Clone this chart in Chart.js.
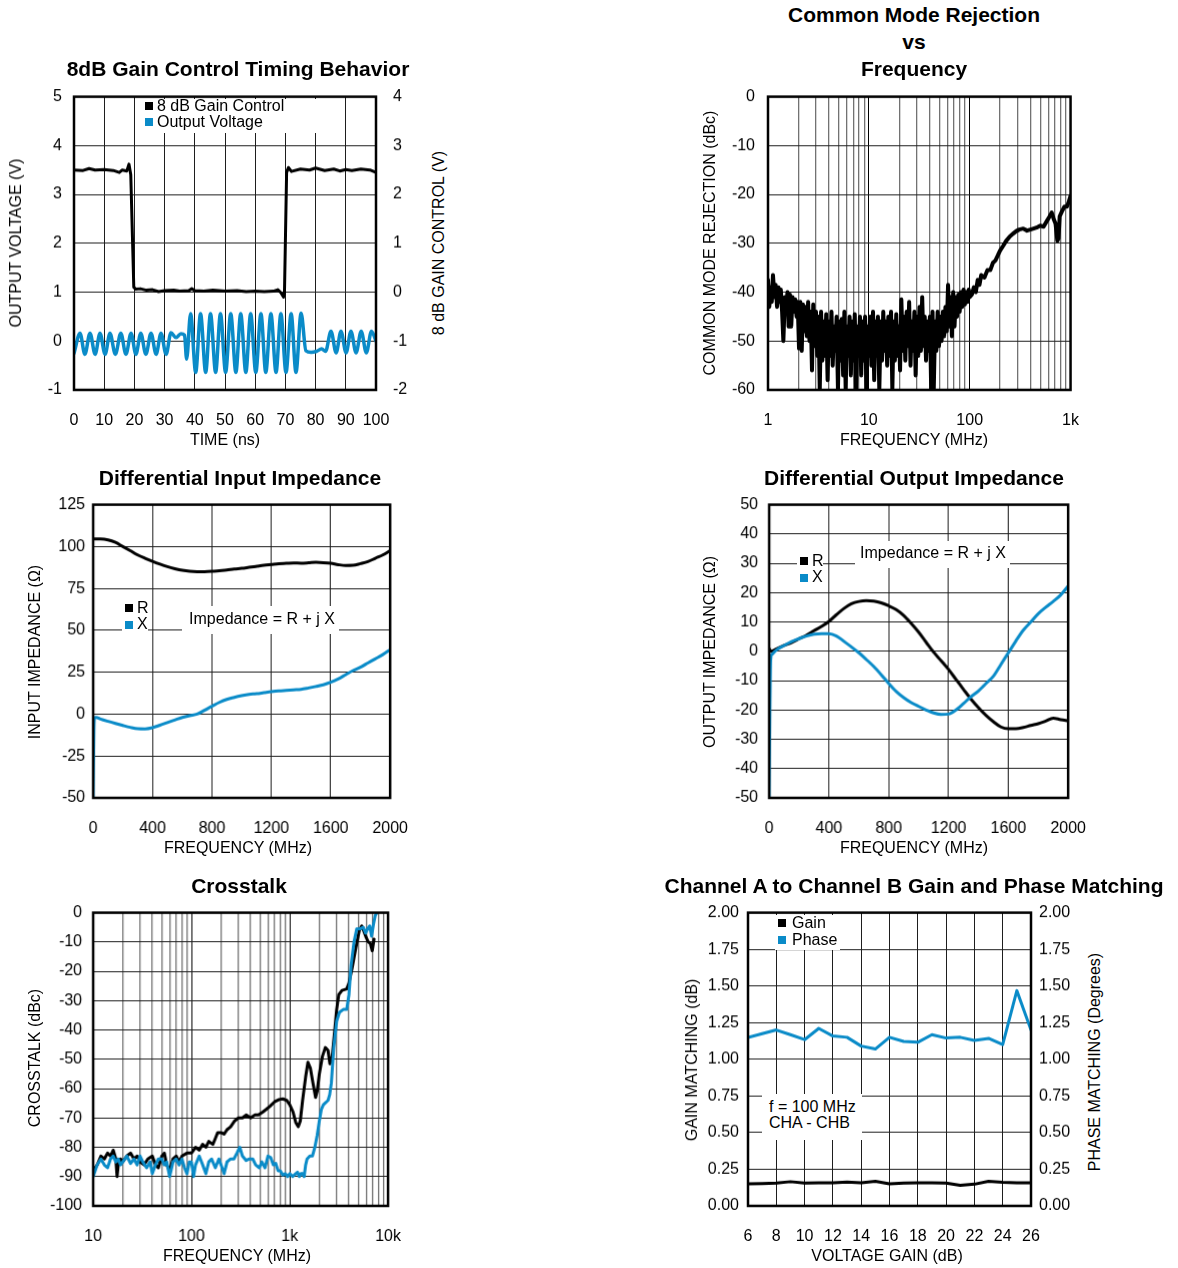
<!DOCTYPE html>
<html>
<head>
<meta charset="utf-8">
<script src="https://cdn.jsdelivr.net/npm/chart.js@4.4.1/dist/chart.umd.min.js"></script>
<style>
  body { margin: 0; background: #fff; width: 1178px; height: 1268px; position: relative; overflow: hidden;
         font-family: "Liberation Sans", Arial, sans-serif; color: #000; }
  canvas { position: absolute; }
  .t { position: absolute; white-space: nowrap; line-height: 1; font-size: 16px; transform: translate(-50%, -50%); }
  .title { font-weight: bold; font-size: 21px; }
  .rot { transform: translate(-50%, -50%) rotate(-90deg); }
  .lab { position: absolute; white-space: nowrap; line-height: 1; font-size: 16px; transform: translateY(-50%); }
  .box { position: absolute; background: #fff; }
  .sq { position: absolute; width: 8px; height: 8px; }
  .k { background: #000; }
  .b { background: #0a8bc8; }
</style>
</head>
<body>

<canvas id="timing"></canvas>
<canvas id="cmrr"></canvas>
<canvas id="zin"></canvas>
<canvas id="zout"></canvas>
<canvas id="xtalk"></canvas>
<canvas id="match"></canvas>

<!-- gain control timing -->
<div class="t title" style="left:238px;top:68px">8dB Gain Control Timing Behavior</div>
<div class="t rot" style="left:16px;top:243px">OUTPUT VOLTAGE (V)</div>
<div class="t rot" style="left:439px;top:243px">8 dB GAIN CONTROL (V)</div>
<div class="t" style="left:225px;top:440px">TIME (ns)</div>
<div class="box" style="left:140px;top:99px;width:180px;height:34px"></div>
<div class="sq k" style="left:145px;top:102px"></div>
<div class="sq b" style="left:145px;top:118px"></div>
<div class="lab" style="left:157px;top:106px">8 dB Gain Control</div>
<div class="lab" style="left:157px;top:122px">Output Voltage</div>

<!-- common mode rejection -->
<div class="t title" style="left:914px;top:14px">Common Mode Rejection</div>
<div class="t title" style="left:914px;top:41px">vs</div>
<div class="t title" style="left:914px;top:68px">Frequency</div>
<div class="t rot" style="left:710px;top:243px">COMMON MODE REJECTION (dBc)</div>
<div class="t" style="left:914px;top:440px">FREQUENCY (MHz)</div>

<!-- input impedance -->
<div class="t title" style="left:240px;top:477px">Differential Input Impedance</div>
<div class="t rot" style="left:35px;top:652px">INPUT IMPEDANCE (Ω)</div>
<div class="t" style="left:238px;top:848px">FREQUENCY (MHz)</div>
<div class="box" style="left:122px;top:597px;width:26px;height:36px"></div>
<div class="sq k" style="left:125px;top:604px"></div>
<div class="sq b" style="left:125px;top:621px"></div>
<div class="lab" style="left:137px;top:608px">R</div>
<div class="lab" style="left:137px;top:624px">X</div>
<div class="box" style="left:182px;top:606px;width:157px;height:28px"></div>
<div class="t" style="left:262px;top:619px">Impedance = R + j X</div>

<!-- output impedance -->
<div class="t title" style="left:914px;top:477px">Differential Output Impedance</div>
<div class="t rot" style="left:710px;top:652px">OUTPUT IMPEDANCE (Ω)</div>
<div class="t" style="left:914px;top:848px">FREQUENCY (MHz)</div>
<div class="box" style="left:797px;top:551px;width:26px;height:36px"></div>
<div class="sq k" style="left:800px;top:557px"></div>
<div class="sq b" style="left:800px;top:574px"></div>
<div class="lab" style="left:812px;top:561px">R</div>
<div class="lab" style="left:812px;top:577px">X</div>
<div class="box" style="left:855px;top:541px;width:155px;height:27px"></div>
<div class="t" style="left:933px;top:553px">Impedance = R + j X</div>

<!-- crosstalk -->
<div class="t title" style="left:239px;top:885px">Crosstalk</div>
<div class="t rot" style="left:35px;top:1058px">CROSSTALK (dBc)</div>
<div class="t" style="left:237px;top:1256px">FREQUENCY (MHz)</div>

<!-- gain / phase matching -->
<div class="t title" style="left:914px;top:885px">Channel A to Channel B Gain and Phase Matching</div>
<div class="t rot" style="left:692px;top:1060px">GAIN MATCHING (dB)</div>
<div class="t rot" style="left:1095px;top:1062px">PHASE MATCHING (Degrees)</div>
<div class="t" style="left:887px;top:1256px">VOLTAGE GAIN (dB)</div>
<div class="box" style="left:775px;top:915px;width:65px;height:35px"></div>
<div class="sq k" style="left:778px;top:919px"></div>
<div class="sq b" style="left:778px;top:936px"></div>
<div class="lab" style="left:792px;top:923px">Gain</div>
<div class="lab" style="left:792px;top:940px">Phase</div>
<div class="box" style="left:762px;top:1094px;width:100px;height:46px"></div>
<div class="lab" style="left:769px;top:1107px">f = 100 MHz</div>
<div class="lab" style="left:769px;top:1123px">CHA - CHB</div>

<script>
const BLACK = '#000000';
const BLUE = '#0a8bc8';
const GRID = '#1e1e1e';
const MINOR = '#727272';

// --- 8 dB gain control timing (ns / V) ---
const outT = [0, 2.0, 3.6, 5.3, 7.0, 8.6, 10.3, 11.9, 13.7, 15.5, 17.2, 18.9, 20.5, 22.1, 23.8, 25.5, 27.2, 28.8, 30.5,
  32.1, 33.8, 35.4, 36.6, 37.3, 38.6, 40.3, 41.9, 43.6, 45.2, 46.9, 48.5, 50.2, 51.9, 53.6, 55.2, 56.9, 58.5, 60.2,
  61.9, 63.5, 65.2, 66.9, 68.5, 70.2, 71.9, 73.5, 75.2, 76.8, 78.5, 80.3, 82.0, 83.3, 85.1, 86.8, 88.4, 90.1, 91.7,
  93.4, 95.1, 96.8, 98.5, 100];
const outV = [-0.25, 0.16, -0.27, 0.16, -0.27, 0.16, -0.27, 0.16, -0.27, 0.16, -0.27, 0.16, -0.27, 0.16, -0.27, 0.16, -0.27, 0.16, -0.27,
  0.17, 0.07, 0.15, 0.12, -0.37, 0.56, -0.64, 0.56, -0.64, 0.56, -0.64, 0.56, -0.64, 0.56, -0.64, 0.56, -0.64, 0.56, -0.64,
  0.56, -0.64, 0.56, -0.64, 0.56, -0.64, 0.56, -0.64, 0.57, -0.2, -0.23, -0.21, -0.16, -0.21, 0.2, -0.24, 0.2, -0.24, 0.2,
  -0.24, 0.2, -0.24, 0.2, 0.0];
const ctrlT = [0, 3, 5, 7, 10, 13, 15, 16, 17.5, 18.2, 18.8, 19.8, 20.5, 22, 24, 26, 28, 30, 33, 35, 38, 39, 40, 43, 46,
  50, 54, 57, 60, 63, 66, 67.5, 68.5, 69.4, 69.7, 70.4, 71, 72, 75, 78, 80, 83, 86, 88, 90, 92, 95, 98, 100];
const ctrlV = [2.5, 2.49, 2.53, 2.5, 2.51, 2.49, 2.45, 2.5, 2.48, 2.62, 2.4, 0.1, 0.06, 0.07, 0.04, 0.05, 0.01, 0.03, 0.04, 0.02, 0.03, 0.07, 0.03, 0.02, 0.04,
  0.02, 0.03, 0.01, 0.02, 0.01, 0.02, 0.05, -0.01, -0.1, 0.0, 2.45, 2.55, 2.47, 2.52, 2.5, 2.54, 2.49, 2.52, 2.48, 2.51, 2.49, 2.52, 2.5, 2.45];

// --- common mode rejection (MHz / dBc) ---
const cmrrFreq = [
  1.00, 1.03, 1.06, 1.09, 1.12, 1.16, 1.19, 1.23, 1.27, 1.30,
  1.34, 1.38, 1.42, 1.47, 1.51, 1.56, 1.60, 1.65, 1.70, 1.75,
  1.81, 1.86, 1.92, 1.97, 2.03, 2.09, 2.16, 2.22, 2.29, 2.36,
  2.43, 2.50, 2.58, 2.65, 2.73, 2.81, 2.90, 2.99, 3.08, 3.17,
  3.26, 3.36, 3.46, 3.57, 3.67, 3.78, 3.90, 4.01, 4.13, 4.26,
  4.38, 4.52, 4.65, 4.79, 4.94, 5.08, 5.24, 5.39, 5.56, 5.72,
  5.89, 6.07, 6.25, 6.44, 6.63, 6.83, 7.04, 7.25, 7.47, 7.69,
  7.92, 8.16, 8.40, 8.65, 8.91, 9.18, 9.46, 9.74, 10.0, 10.3,
  10.6, 11.0, 11.3, 11.6, 12.0, 12.3, 12.7, 13.1, 13.5, 13.9,
  14.3, 14.7, 15.2, 15.6, 16.1, 16.6, 17.1, 17.6, 18.1, 18.7,
  19.2, 19.8, 20.4, 21.0, 21.7, 22.3, 23.0, 23.7, 24.4, 25.1,
  25.9, 26.6, 27.4, 28.3, 29.1, 30.0, 30.9, 31.8, 32.8, 33.8,
  34.8, 35.8, 36.9, 38.0, 39.1, 40.3, 41.5, 42.8, 44.0, 45.4,
  46.7, 48.1, 49.6, 51.1, 52.6, 54.2, 55.8, 57.5, 59.2, 61.0,
  62.8, 64.7, 66.6, 68.6, 70.7, 72.8, 75.0, 77.2, 79.5, 81.9,
  84.4, 86.9, 89.5, 92.2, 95.0, 97.8, 100, 105, 110, 115,
  120, 125, 130, 140, 150, 160, 170, 180, 190, 200,
  215, 230, 250, 270, 290, 310, 340, 370, 400, 430,
  460, 500, 540, 580, 620, 650, 680, 710, 740, 760,
  780, 820, 870, 920, 960, 1000];
const cmrrDb = [
  -37.5, -43, -39, -42, -36.5, -41, -38.5, -43, -39, -42,
  -39.5, -44, -50, -41, -44, -40, -47, -40.5, -47, -41,
  -44, -41.5, -45, -42, -51.5, -42, -52, -42.5, -48, -43,
  -49, -42, -50, -44, -56, -42.5, -51, -44, -53, -45,
  -60, -44, -54, -46, -53, -44.5, -58, -46, -53, -44,
  -55, -47, -52, -45, -60, -46, -54, -45.5, -57, -44,
  -60, -47, -53, -45, -57, -46, -54, -44.5, -60, -47,
  -53, -45, -57, -46, -54, -45, -60, -47, -53, -45,
  -55, -44, -58, -46, -53, -45, -60, -46, -54, -44,
  -52, -46, -55, -45, -53, -44, -60, -46, -54, -44.5,
  -53, -47, -56, -41.5, -52, -45, -54, -44, -51, -42,
  -55, -46, -52, -44, -57, -45, -53, -43, -52, -41,
  -51, -45, -54, -46, -52, -45, -60, -44, -60, -46,
  -52, -44, -51, -45, -50, -44, -49, -43, -48, -38.5,
  -47, -41, -49, -40, -47, -41, -45, -40.5, -44, -40,
  -43, -39.5, -42.5, -40, -42, -39.5, -41, -40.5, -39, -40,
  -37.5, -38.5, -36.5, -37, -35.5, -35.5, -34, -33.5, -32.5, -31.5,
  -30.5, -29.5, -28.6, -28, -27.5, -27.2, -27, -27.4, -27.2, -27,
  -26.8, -26.4, -26.6, -25.5, -24.5, -23.7, -25, -26, -29.5, -29,
  -24.5, -23.5, -22.5, -22.5, -21.5, -20.3];

// --- differential input impedance (MHz / ohm) ---
const zinFreqR = [0, 10, 50, 100, 150, 200, 250, 300, 350, 400, 450, 500, 550, 600, 650, 700, 750, 800, 850, 900, 950,
  1000, 1050, 1100, 1150, 1200, 1250, 1300, 1350, 1400, 1450, 1500, 1550, 1600, 1650, 1700, 1750, 1800, 1850, 1900, 1950, 2000];
const zinR = [105, 104.5, 104.5, 104, 102.5, 100, 97.5, 95, 93, 91.2, 89.5, 88, 86.8, 85.8, 85.2, 85, 85, 85.2, 85.6, 86, 86.6,
  87, 87.6, 88.2, 88.8, 89.3, 89.8, 90, 90.2, 90.1, 90.3, 90.6, 90.4, 90, 89.2, 88.7, 88.8, 89.8, 91, 93, 95, 97.5];
const zinFreqX = [0, 5, 10, 20, 50, 100, 150, 200, 250, 300, 350, 400, 450, 500, 550, 600, 650, 700, 750, 800, 850, 900, 950,
  1000, 1050, 1100, 1150, 1200, 1250, 1300, 1350, 1400, 1450, 1500, 1550, 1600, 1650, 1700, 1750, 1800, 1850, 1900, 1950, 2000];
const zinX = [-50, -10, -2, -1.9, -2.9, -4.3, -5.6, -6.8, -7.9, -8.7, -8.8, -8.1, -6.6, -5, -3.5, -2, -0.9, 0, 2.3, 4.7, 7, 8.8, 10,
  11, 11.8, 12.2, 12.8, 13.4, 13.9, 14.2, 14.5, 14.8, 15.6, 16.5, 17.5, 19, 21, 23.5, 26, 28, 30.5, 33, 35.5, 38.5];

// --- differential output impedance (MHz / ohm) ---
const zoutFreqR = [0, 10, 50, 100, 150, 200, 250, 300, 350, 400, 450, 500, 550, 600, 650, 700, 750, 800, 850, 900, 950,
  1000, 1050, 1100, 1150, 1200, 1250, 1300, 1350, 1400, 1450, 1500, 1550, 1600, 1650, 1700, 1750, 1800, 1850, 1900, 1950, 2000];
const zoutR = [1, 0, 0.8, 2, 3, 4.3, 5.5, 7, 8.5, 10.2, 12.5, 14.6, 16.2, 17, 17.3, 17.1, 16.5, 15.5, 14.2, 12.2, 9.5,
  6.5, 3.1, -0.3, -3.2, -6.2, -9.6, -13, -16.3, -19.2, -21.8, -24, -25.8, -26.4, -26.4, -26, -25.3, -24.7, -23.8, -22.8, -23.3, -23.7];
const zoutFreqX = [0, 5, 10, 20, 50, 100, 150, 200, 250, 300, 350, 400, 450, 500, 550, 600, 650, 700, 750, 800, 850, 900, 950,
  1000, 1050, 1100, 1150, 1200, 1250, 1300, 1350, 1400, 1450, 1500, 1550, 1600, 1650, 1700, 1750, 1800, 1850, 1900, 1950, 2000];
const zoutX = [-50, -20, -3, -1, 0.5, 2, 3.3, 4.3, 5.2, 5.8, 6, 6, 5.2, 3.4, 1.5, -0.5, -2.8, -5.2, -8, -11, -13.7, -15.8, -17.5,
  -18.8, -20, -21, -21.5, -21.4, -20, -17.8, -15.5, -13.5, -11, -8.5, -4.5, -0.5, 3.5, 7.2, 10, 12.8, 15, 17, 19.2, 22.3];

// --- crosstalk (MHz / dBc) ---
const xtalkFreqK = [
  10, 11, 12, 13, 14, 15, 16, 17, 17.5, 18,
  19, 20, 22, 24, 26, 28, 30, 33, 36, 40,
  43, 46, 50, 53, 56, 60, 65, 70, 75, 80,
  90, 100, 110, 120, 130, 140, 150, 165, 175, 185,
  200, 215, 230, 250, 275, 300, 330, 360, 400, 440,
  480, 530, 580, 630, 700, 780, 850, 930, 1000, 1080,
  1150, 1220, 1280, 1350, 1450, 1530, 1620, 1720, 1830, 1900,
  2000, 2150, 2300, 2450, 2560, 2700, 2850, 3000, 3150, 3400,
  3800, 4000, 4300, 4700, 5100, 5400, 5700, 6000, 6300, 6600,
  6900, 7200];
const xtalkDbK = [
  -88, -86, -83, -84, -82, -83, -81, -84, -90, -86,
  -84, -85, -83, -82, -84, -83, -85, -86, -84, -83,
  -86, -87, -83, -82, -86, -88, -84, -83, -85, -83,
  -82, -82, -80, -81, -79, -80, -78, -79, -77, -75,
  -75, -75.5, -74, -73, -71, -70, -70, -69, -70, -69,
  -69, -68, -67, -66, -64.5, -63.7, -63.5, -64, -65.5, -68,
  -71.5, -73, -71, -64, -56, -51, -53, -58, -63, -61,
  -55, -49, -46, -47, -51.5, -49, -41, -33, -28, -26.5,
  -26, -24, -19, -12, -6, -4.5, -6.5, -8.5, -10, -10.5,
  -13, -9];
const xtalkFreqB = [
  10, 11, 12, 13, 14, 15, 16, 17, 18, 19,
  20, 22, 24, 26, 28, 30, 32, 35, 38, 40,
  43, 46, 50, 53, 56, 60, 65, 70, 75, 80,
  85, 90, 95, 100, 105, 110, 120, 130, 140, 150,
  160, 175, 190, 200, 215, 230, 250, 270, 290, 310,
  330, 360, 390, 420, 450, 490, 520, 560, 600, 640,
  680, 720, 760, 800, 850, 900, 950, 1000, 1070, 1150,
  1200, 1250, 1300, 1350, 1400, 1450, 1500, 1600, 1700, 1800,
  1900, 2000, 2100, 2200, 2450, 2550, 2650, 2800, 3000, 3200,
  3500, 3800, 4000, 4200, 4500, 4800, 5200, 5600, 5900, 6200,
  6500, 6800, 7100, 7400, 7700];
const xtalkDbB = [
  -90, -86, -84, -86, -87, -84, -83, -85, -84, -86,
  -85, -83, -85.5, -84, -86, -83, -85, -87, -85, -89,
  -86, -84, -84, -86, -85, -90, -85, -84, -86, -84,
  -87, -89, -85, -85, -90, -86, -83, -86, -89, -85,
  -84, -87, -84, -86, -89, -85, -84, -84, -82, -80,
  -83, -84.5, -84, -84, -86, -87, -85, -87, -83, -83.5,
  -86, -85.5, -88, -88, -89.5, -89, -90, -89, -90, -89,
  -88.5, -90, -89, -89, -90, -86, -84, -83, -83, -80,
  -76, -71, -67, -65.5, -64, -62, -58, -46, -37, -34,
  -33, -33, -28, -18, -10, -5.5, -5.5, -5, -7, -5.5,
  -4.5, -8, -4, -1, 0];

// --- channel A to B matching vs voltage gain (dB) ---
const voltageGain = [6, 7, 8, 9, 10, 11, 12, 13, 14, 15, 16, 17, 18, 19, 20, 21, 22, 23, 24, 25, 26];
const gainMatch = [0.15, 0.153, 0.155, 0.165, 0.155, 0.158, 0.158, 0.162, 0.158, 0.168, 0.15, 0.155, 0.158, 0.158, 0.155,
  0.14, 0.148, 0.168, 0.16, 0.158, 0.158];
const phaseMatch = [1.148, 1.175, 1.2, 1.168, 1.134, 1.211, 1.159, 1.15, 1.09, 1.07, 1.15, 1.122, 1.116, 1.168, 1.145,
  1.15, 1.128, 1.143, 1.1, 1.468, 1.2];

// tick labels for the log axes
const cmrrTickLabels = { 1: '1', 10: '10', 100: '100', 1000: '1k' };
const xtalkTickLabels = { 10: '10', 100: '100', 1000: '1k', 10000: '10k' };

Chart.defaults.font.family = '"Liberation Sans", Arial, sans-serif';
Chart.defaults.font.size = 16;
Chart.defaults.color = '#000';

function zip(xs, ys) { return xs.map((x, i) => ({ x: x, y: ys[i] })); }

function logGridValues(min, max) {
  const vals = [];
  for (let d = min; d < max; d *= 10) {
    for (let m = 1; m < 10; m++) vals.push(d * m);
  }
  vals.push(max);
  return vals;
}

function isDecade(v) {
  const l = Math.log10(v);
  return Math.abs(l - Math.round(l)) < 1e-9;
}

// heavy box round the plot area
const framePlugin = {
  id: 'frame',
  afterDatasetsDraw(chart) {
    const a = chart.chartArea, ctx = chart.ctx;
    ctx.save();
    ctx.strokeStyle = '#000';
    ctx.lineWidth = 2.5;
    ctx.strokeRect(a.left, a.top, a.right - a.left, a.bottom - a.top);
    ctx.restore();
  }
};

function xLinear(min, max, step, height) {
  return {
    type: 'linear', position: 'bottom', min: min, max: max,
    afterFit: s => { s.height = height; },
    border: { display: false },
    grid: { color: GRID, lineWidth: 1, drawTicks: false },
    ticks: { stepSize: step, padding: 21, maxRotation: 0, autoSkip: false, callback: v => String(v) }
  };
}

function xLog(min, max, labels, height) {
  return {
    type: 'logarithmic', position: 'bottom', min: min, max: max,
    afterFit: s => { s.height = height; },
    afterBuildTicks: s => { s.ticks = logGridValues(min, max).map(v => ({ value: v })); },
    border: { display: false },
    grid: {
      color: c => (c.tick && isDecade(c.tick.value)) ? '#000' : MINOR,
      lineWidth: c => (c.tick && isDecade(c.tick.value)) ? 1 : 1.3,
      drawTicks: false
    },
    ticks: { padding: 21, maxRotation: 0, autoSkip: false, callback: v => (labels[v] !== undefined ? labels[v] : '') }
  };
}

function yLinear(position, min, max, step, width, padding, fmt, showGrid) {
  return {
    type: 'linear', position: position, min: min, max: max,
    afterFit: s => { s.width = width; },
    border: { display: false },
    grid: { color: GRID, lineWidth: 1, drawTicks: false, drawOnChartArea: showGrid },
    ticks: { stepSize: step, padding: padding, autoSkip: false, callback: fmt || (v => String(v)) }
  };
}

function line(label, xs, ys, color, axis, extra) {
  return Object.assign({
    label: label, data: zip(xs, ys), yAxisID: axis,
    borderColor: color, backgroundColor: color, borderWidth: 3,
    borderJoinStyle: 'round', borderCapStyle: 'round',
    pointRadius: 0, fill: false, tension: 0,
    order: color === BLUE ? 0 : 1
  }, extra || {});
}

// builds the chart, then resizes and shifts the canvas so the plot area lands on box
function panel(id, box, pad, build) {
  const cv = document.getElementById(id);
  const makeConfig = () => {
    const spec = build();
    const hasRight = Object.values(spec.scales).some(s => s.position === 'right');
    return {
      type: 'line',
      data: { datasets: spec.datasets },
      options: {
        responsive: false, maintainAspectRatio: false, animation: false, events: [],
        layout: { padding: { top: pad.t, left: 0, right: hasRight ? 0 : pad.r, bottom: 0 } },
        plugins: { legend: { display: false }, tooltip: { enabled: false } },
        scales: spec.scales
      },
      plugins: [framePlugin]
    };
  };
  let w = box.R - box.L + pad.l + pad.r;
  let h = box.B - box.T + pad.t + pad.b;
  cv.width = w;
  cv.height = h;
  let chart = new Chart(cv, makeConfig());
  const a = chart.chartArea;
  const dw = (box.R - box.L) - (a.right - a.left);
  const dh = (box.B - box.T) - (a.bottom - a.top);
  if (Math.abs(dw) > 0.1 || Math.abs(dh) > 0.1) {
    chart.destroy();
    w += dw;
    h += dh;
    cv.width = w;
    cv.height = h;
    chart = new Chart(cv, makeConfig());
  }
  cv.style.width = w + 'px';
  cv.style.height = h + 'px';
  cv.style.left = (box.L - chart.chartArea.left) + 'px';
  cv.style.top = (box.T - chart.chartArea.top) + 'px';
  return chart;
}

// 8 dB gain control timing behaviour
panel('timing', { L: 74, T: 97, R: 376, B: 390 }, { l: 60, r: 50, t: 15, b: 45 }, () => ({
  datasets: [
    line('8 dB Gain Control', ctrlT, ctrlV, BLACK, 'y2'),
    line('Output Voltage', outT, outV, BLUE, 'y', { borderWidth: 3.5, cubicInterpolationMode: 'monotone' })
  ],
  scales: {
    x: xLinear(0, 100, 10, 45),
    y: yLinear('left', -1, 5, 1, 60, 12, null, true),
    y2: yLinear('right', -2, 4, 1, 50, 17, null, false)
  }
}));

// common mode rejection vs frequency
panel('cmrr', { L: 768, T: 97, R: 1071, B: 390 }, { l: 60, r: 25, t: 15, b: 45 }, () => ({
  datasets: [line('CMRR', cmrrFreq, cmrrDb, BLACK, 'y', { borderWidth: 4 })],
  scales: {
    x: xLog(1, 1000, cmrrTickLabels, 45),
    y: yLinear('left', -60, 0, 10, 60, 13, null, true)
  }
}));

// differential input impedance
panel('zin', { L: 93, T: 505, R: 390, B: 798 }, { l: 60, r: 25, t: 15, b: 45 }, () => ({
  datasets: [
    line('R', zinFreqR, zinR, BLACK, 'y', { cubicInterpolationMode: 'monotone' }),
    line('X', zinFreqX, zinX, BLUE, 'y', { cubicInterpolationMode: 'monotone' })
  ],
  scales: {
    x: xLinear(0, 2000, 400, 45),
    y: yLinear('left', -50, 125, 25, 60, 8, null, true)
  }
}));

// differential output impedance
panel('zout', { L: 769, T: 505, R: 1068, B: 798 }, { l: 60, r: 25, t: 15, b: 45 }, () => ({
  datasets: [
    line('R', zoutFreqR, zoutR, BLACK, 'y', { cubicInterpolationMode: 'monotone' }),
    line('X', zoutFreqX, zoutX, BLUE, 'y', { cubicInterpolationMode: 'monotone' })
  ],
  scales: {
    x: xLinear(0, 2000, 400, 45),
    y: yLinear('left', -50, 50, 10, 60, 11, null, true)
  }
}));

// crosstalk
panel('xtalk', { L: 93, T: 913, R: 388, B: 1206 }, { l: 60, r: 25, t: 15, b: 45 }, () => ({
  datasets: [
    line('Crosstalk A', xtalkFreqK, xtalkDbK, BLACK, 'y'),
    line('Crosstalk B', xtalkFreqB, xtalkDbB, BLUE, 'y')
  ],
  scales: {
    x: xLog(10, 10000, xtalkTickLabels, 45),
    y: yLinear('left', -100, 0, 10, 60, 11, null, true)
  }
}));

// channel A to channel B gain and phase matching
const twoDec = v => Number(v).toFixed(2);
panel('match', { L: 748, T: 913, R: 1031, B: 1206 }, { l: 60, r: 50, t: 15, b: 45 }, () => ({
  datasets: [
    line('Gain', voltageGain, gainMatch, BLACK, 'y'),
    line('Phase', voltageGain, phaseMatch, BLUE, 'y2')
  ],
  scales: {
    x: xLinear(6, 26, 2, 45),
    y: yLinear('left', 0, 2, 0.25, 60, 9, twoDec, true),
    y2: yLinear('right', 0, 2, 0.25, 50, 8, twoDec, false)
  }
}));
</script>
</body>
</html>
